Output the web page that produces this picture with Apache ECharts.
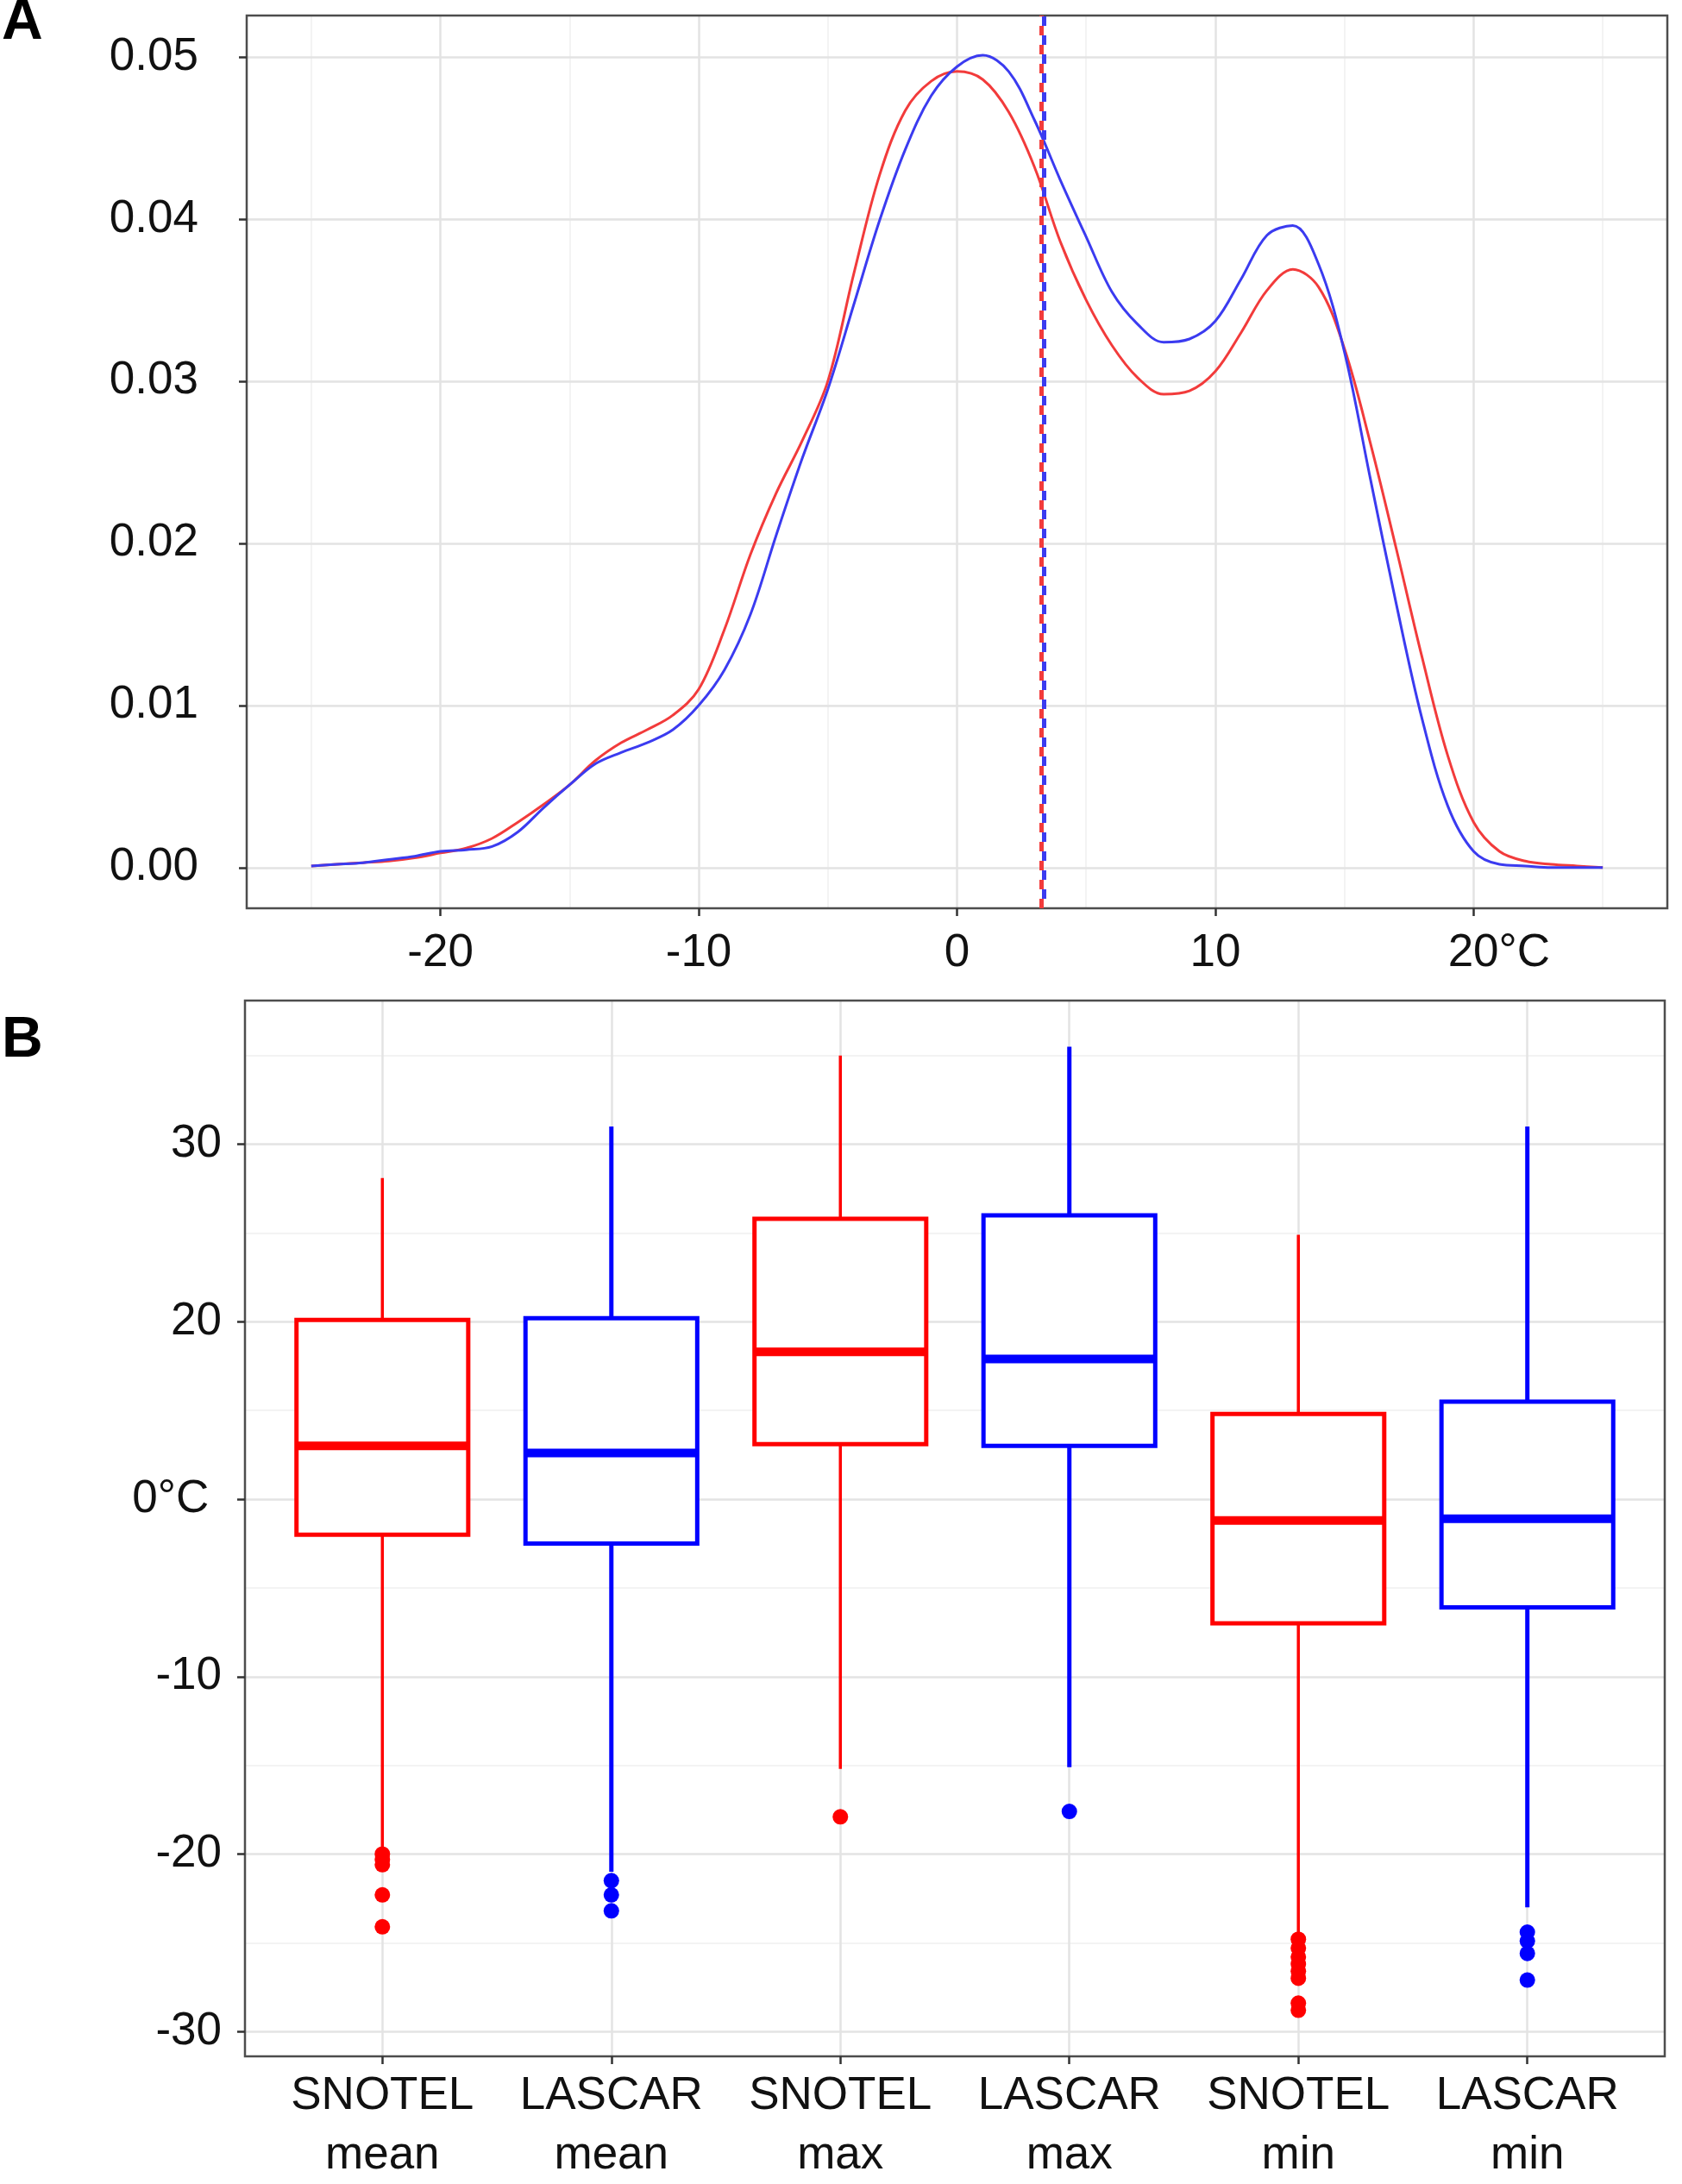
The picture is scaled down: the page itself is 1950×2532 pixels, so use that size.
<!DOCTYPE html>
<html>
<head>
<meta charset="utf-8">
<title>SNOTEL vs LASCAR temperatures</title>
<script src="https://cdn.jsdelivr.net/npm/echarts@6/dist/echarts.min.js"></script>
<style>
  html, body { margin: 0; padding: 0; background: #fff; }
  #chart { width: 1950px; height: 2532px; }
</style>
</head>
<body>
<div id="chart"></div>
<script>
// ---- panel A: density of daily temperature ----
const densityTemps = [-25, -24, -23, -22, -21, -20, -19, -18, -17, -16, -15, -14, -13, -12, -11, -10,
  -9, -8, -7, -6, -5, -4, -3, -2, -1, 0, 1, 2, 3, 4, 5, 6, 7, 8, 9, 10,
  11, 12, 13, 14, 15, 16, 17, 18, 19, 20, 21, 22, 23, 24, 25]
const snotelDensity = [0.0001, 0.0002, 0.0003, 0.0004, 0.0006, 0.0009, 0.0012, 0.0018, 0.0028, 0.0039, 0.0051, 0.0066, 0.0077, 0.0085, 0.0094, 0.0110,
  0.0147, 0.0193, 0.0231, 0.0263, 0.0300, 0.0366, 0.0427, 0.0467, 0.0485, 0.0491, 0.0486, 0.0466, 0.0432, 0.0386, 0.0350, 0.0322, 0.0302, 0.0292, 0.0294, 0.0306,
  0.0330, 0.0356, 0.0369, 0.0358, 0.0320, 0.0262, 0.0197, 0.0130, 0.0069, 0.0028, 0.0010, 0.0004, 0.0002, 0.0001, 0.0000]
const lascarDensity = [0.0001, 0.0002, 0.0003, 0.0005, 0.0007, 0.0010, 0.0011, 0.0013, 0.0022, 0.0037, 0.0051, 0.0064, 0.0071, 0.0077, 0.0085, 0.0100,
  0.0122, 0.0156, 0.0205, 0.0252, 0.0295, 0.0347, 0.0399, 0.0443, 0.0476, 0.0494, 0.0501, 0.0491, 0.0461, 0.0424, 0.0389, 0.0355, 0.0335, 0.0324, 0.0326, 0.0337,
  0.0363, 0.0390, 0.0396, 0.0372, 0.0318, 0.0240, 0.0163, 0.0092, 0.0038, 0.0010, 0.0002, 0.0001, 0.0000, 0.0000, 0.0000]
const snotelMeanTemp = 3.28
const lascarMeanTemp = 3.38
const densityTicks = [0, 0.01, 0.02, 0.03, 0.04, 0.05]
const densityMinorTicks = [0.005, 0.015, 0.025, 0.035, 0.045]
const tempTicks = [-20, -10, 0, 10, 20]
const tempTickLabels = ['-20', '-10', '0', '10', '20°C']
const tempMinorTicks = [-25, -15, -5, 5, 15, 25]

// ---- panel B: box plots ----
const boxCategories = ['SNOTEL\nmean', 'LASCAR\nmean', 'SNOTEL\nmax', 'LASCAR\nmax', 'SNOTEL\nmin', 'LASCAR\nmin']
const boxLow = [-19.6, -21.0, -15.2, -15.1, -24.4, -23.0]
const boxQ1 = [-2.0, -2.5, 3.1, 3.0, -7.0, -6.1]
const boxMedian = [3.0, 2.6, 8.3, 7.9, -1.2, -1.1]
const boxQ3 = [10.1, 10.2, 15.8, 16.0, 4.8, 5.5]
const boxHigh = [18.1, 21.0, 25.0, 25.5, 14.9, 21.0]
const boxOutliers = [
  [-20.0, -20.3, -20.6, -22.3, -24.1],
  [-21.5, -22.3, -23.2],
  [-17.9],
  [-17.6],
  [-24.8, -25.3, -25.8, -26.2, -26.6, -27.0, -28.4, -28.8],
  [-24.4, -24.9, -25.6, -27.1]
]
const boxTicks = [-30, -20, -10, 0, 10, 20]
const boxTickLabels = ['-30', '-20', '-10', '0°C', '20', '30']
const boxMinorTicks = [-25, -15, -5, 5, 15, 25]

const FONT = 'Liberation Sans, Arial, sans-serif'
const RED_LINE = '#f23b3b'
const BLUE_LINE = '#3b3bf0'
const RED_BOX = '#ff0000'
const BLUE_BOX = '#0000ff'
const BOX_WIDTH = 0.75 // in category units

const isSnotel = name => name.indexOf('SNOTEL') === 0
const catPositions = boxCategories.map((c, i) => i + 1)

// background grid lines, drawn under the panel border
function gridLineSeries(gridIdx, xMajor, xMinor, yMajor, yMinor) {
  const major = { color: '#e3e3e3', width: 2.5, type: 'solid' }
  const minor = { color: '#efefef', width: 1.5, type: 'solid' }
  const lines = []
  xMinor.forEach(v => lines.push({ xAxis: v, lineStyle: minor }))
  yMinor.forEach(v => lines.push({ yAxis: v, lineStyle: minor }))
  xMajor.forEach(v => lines.push({ xAxis: v, lineStyle: major }))
  yMajor.forEach(v => lines.push({ yAxis: v, lineStyle: major }))
  return {
    type: 'line',
    xAxisIndex: gridIdx,
    yAxisIndex: gridIdx,
    data: [],
    silent: true,
    z: -1,
    markLine: {
      silent: true,
      z: -1,
      symbol: 'none',
      label: { show: false },
      animation: false,
      data: lines
    }
  }
}

function tickStyle() {
  return { show: true, length: 9, lineStyle: { color: '#333', width: 2.5 } }
}

const hiddenLine = { show: false, onZero: false }

function renderBox(params, api) {
  const x = api.value(0)
  const snotel = isSnotel(boxCategories[params.dataIndex])
  const color = snotel ? RED_BOX : BLUE_BOX
  const whiskerW = snotel ? 3.5 : 5
  const half = api.size([BOX_WIDTH, 0])[0] / 2
  const low = api.coord([x, api.value(1)])
  const q1 = api.coord([x, api.value(2)])
  const med = api.coord([x, api.value(3)])
  const q3 = api.coord([x, api.value(4)])
  const high = api.coord([x, api.value(5)])
  return {
    type: 'group',
    children: [
      { type: 'line', shape: { x1: low[0], y1: low[1], x2: q1[0], y2: q1[1] }, style: { stroke: color, lineWidth: whiskerW } },
      { type: 'line', shape: { x1: q3[0], y1: q3[1], x2: high[0], y2: high[1] }, style: { stroke: color, lineWidth: whiskerW } },
      { type: 'rect', shape: { x: q3[0] - half, y: q3[1], width: half * 2, height: q1[1] - q3[1] }, style: { fill: '#fff', stroke: color, lineWidth: 5 } },
      { type: 'line', shape: { x1: med[0] - half, y1: med[1], x2: med[0] + half, y2: med[1] }, style: { stroke: color, lineWidth: 10 } }
    ]
  }
}

const snotelOutlierPts = []
const lascarOutlierPts = []
boxOutliers.forEach((vals, i) => {
  vals.forEach(v => (isSnotel(boxCategories[i]) ? snotelOutlierPts : lascarOutlierPts).push([i + 1, v]))
})

const labelText = { color: '#111', fontFamily: FONT, fontSize: 53 }

const option = {
  animation: false,
  backgroundColor: '#fff',
  textStyle: { fontFamily: FONT },
  graphic: [
    { type: 'text', left: 2, top: -6, style: { text: 'A', font: 'bold 66px ' + FONT, fill: '#000' } },
    { type: 'text', left: 2, top: 1174, style: { text: 'B', font: 'bold 66px ' + FONT, fill: '#000' } }
  ],
  grid: [
    { left: 286, top: 18, width: 1647, height: 1035, show: true, borderColor: '#4d4d4d', borderWidth: 2.5, outerBoundsMode: 'none' },
    { left: 284, top: 1160, width: 1646, height: 1224, show: true, borderColor: '#4d4d4d', borderWidth: 2.5, outerBoundsMode: 'none' }
  ],
  xAxis: [
    {
      type: 'value', gridIndex: 0, min: -27.5, max: 27.5,
      axisLine: hiddenLine, splitLine: { show: false },
      axisTick: Object.assign(tickStyle(), { customValues: tempTicks }),
      axisLabel: Object.assign({}, labelText, {
        customValues: tempTicks,
        margin: 26,
        formatter: v => {
          const i = tempTicks.indexOf(v)
          if (i < 0) return ''
          const s = tempTickLabels[i]
          // keep the number centred on its tick, unit hangs to the right
          return s.indexOf('°C') > 0 ? '\u00a0\u00a0\u00a0\u00a0' + s : s
        }
      })
    },
    {
      type: 'value', gridIndex: 1, min: 0.4, max: 6.6,
      axisLine: hiddenLine, splitLine: { show: false },
      axisTick: Object.assign(tickStyle(), { customValues: catPositions }),
      axisLabel: Object.assign({}, labelText, {
        customValues: catPositions,
        margin: 12,
        lineHeight: 69,
        formatter: v => (Math.abs(v - Math.round(v)) < 1e-6 && boxCategories[Math.round(v) - 1]) || ''
      })
    }
  ],
  yAxis: [
    {
      type: 'value', gridIndex: 0, min: -0.00251, max: 0.05255,
      axisLine: hiddenLine, splitLine: { show: false },
      axisTick: Object.assign(tickStyle(), { customValues: densityTicks }),
      axisLabel: Object.assign({}, labelText, {
        customValues: densityTicks,
        margin: 56,
        formatter: v => v.toFixed(2)
      })
    },
    {
      type: 'value', gridIndex: 1, min: -31.4, max: 28.1,
      axisLine: hiddenLine, splitLine: { show: false },
      axisTick: Object.assign(tickStyle(), { customValues: boxTicks }),
      axisLabel: Object.assign({}, labelText, {
        customValues: boxTicks,
        margin: 27,
        formatter: v => {
          const i = boxTicks.indexOf(v)
          if (i < 0) return ''
          const s = boxTickLabels[i]
          return s.indexOf('°C') > 0 ? s + '\u00a0' : s
        }
      })
    }
  ],
  series: [
    gridLineSeries(0, tempTicks, tempMinorTicks, densityTicks, densityMinorTicks),
    gridLineSeries(1, catPositions, [], boxTicks, boxMinorTicks),
    {
      name: 'SNOTEL',
      type: 'line',
      xAxisIndex: 0, yAxisIndex: 0,
      data: densityTemps.map((t, i) => [t, snotelDensity[i]]),
      showSymbol: false,
      smooth: 0.35,
      lineStyle: { color: RED_LINE, width: 3 },
      itemStyle: { color: RED_LINE },
      markLine: {
        silent: true, symbol: 'none', label: { show: false },
        lineStyle: { color: RED_LINE, width: 5, type: [11, 11] },
        data: [{ xAxis: snotelMeanTemp }]
      }
    },
    {
      name: 'LASCAR',
      type: 'line',
      xAxisIndex: 0, yAxisIndex: 0,
      data: densityTemps.map((t, i) => [t, lascarDensity[i]]),
      showSymbol: false,
      smooth: 0.35,
      lineStyle: { color: BLUE_LINE, width: 3 },
      itemStyle: { color: BLUE_LINE },
      markLine: {
        silent: true, symbol: 'none', label: { show: false },
        lineStyle: { color: BLUE_LINE, width: 5, type: [11, 11], dashOffset: 11 },
        data: [{ xAxis: lascarMeanTemp }]
      }
    },
    {
      type: 'custom',
      xAxisIndex: 1, yAxisIndex: 1,
      renderItem: renderBox,
      encode: { x: 0, y: [1, 2, 3, 4, 5] },
      data: boxCategories.map((c, i) => [i + 1, boxLow[i], boxQ1[i], boxMedian[i], boxQ3[i], boxHigh[i]])
    },
    {
      type: 'scatter',
      xAxisIndex: 1, yAxisIndex: 1,
      data: snotelOutlierPts,
      symbolSize: 18,
      itemStyle: { color: RED_BOX, opacity: 1 }
    },
    {
      type: 'scatter',
      xAxisIndex: 1, yAxisIndex: 1,
      data: lascarOutlierPts,
      symbolSize: 18,
      itemStyle: { color: BLUE_BOX, opacity: 1 }
    }
  ]
}

const myChart = echarts.init(document.getElementById('chart'))
myChart.setOption(option, true)
window.addEventListener('resize', () => {
  myChart.resize()
})
</script>
</body>
</html>
